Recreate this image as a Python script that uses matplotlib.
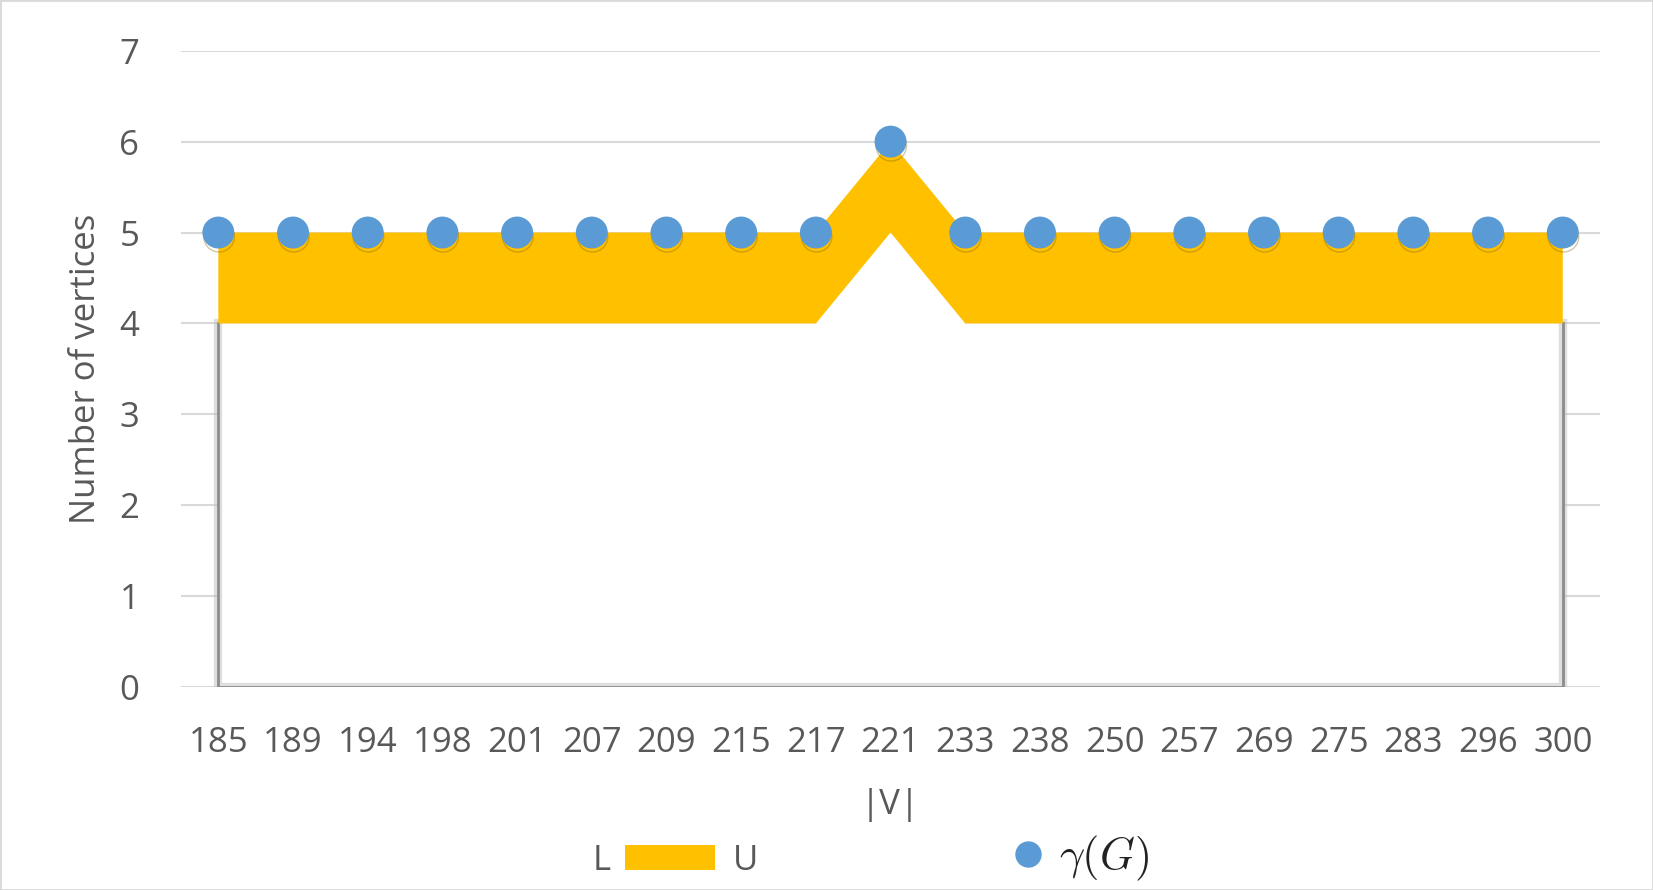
import numpy as np
import matplotlib.pyplot as plt
import matplotlib.patheffects as pe
from matplotlib.patches import Patch, Rectangle
from matplotlib.lines import Line2D

plt.rcParams['font.family'] = ['Open Sans', 'DejaVu Sans']
plt.rcParams['mathtext.fontset'] = 'cm'

# datos
vertices = ['185', '189', '194', '198', '201', '207', '209', '215', '217', '221',
            '233', '238', '250', '257', '269', '275', '283', '296', '300']
lower = [4, 4, 4, 4, 4, 4, 4, 4, 4, 5, 4, 4, 4, 4, 4, 4, 4, 4, 4]
upper = [5, 5, 5, 5, 5, 5, 5, 5, 5, 6, 5, 5, 5, 5, 5, 5, 5, 5, 5]
gamma = [5, 5, 5, 5, 5, 5, 5, 5, 5, 6, 5, 5, 5, 5, 5, 5, 5, 5, 5]

gold = '#FFC000'
blue = '#5B9BD5'
txt = '#595959'

fig = plt.figure(figsize=(16.53, 8.9), dpi=100)
ax = fig.add_axes([0.1095, 0.228, 0.8585, 0.715])
fig.patches.append(Rectangle((0, 0), 1, 1, transform=fig.transFigure,
                             fill=False, edgecolor='#d9d9d9', linewidth=2))

x = np.arange(len(vertices))
soft = [pe.Stroke(linewidth=6, foreground='#bfbfbf', alpha=0.5), pe.Normal()]

# area L (blanca) con sombra solo en los bordes laterales e inferior
ax.fill_between(x, 0, lower, facecolor='white', edgecolor='none', zorder=2)
ax.plot([x[0], x[0], x[-1], x[-1]], [lower[0], 0, 0, lower[-1]], color='#8c8c8c',
        linewidth=2, zorder=2.5, solid_joinstyle='miter', path_effects=soft)
# area U (dorada)
ax.fill_between(x, lower, upper, facecolor=gold, edgecolor='none', zorder=3)
ax.plot(x, gamma, linestyle='none', marker='o', markersize=22, color=blue, zorder=4,
        path_effects=[pe.SimpleLineShadow(offset=(0.5, -3), shadow_color='#7f6000', alpha=0.35), pe.Normal()])

ax.set_xlim(-0.5, len(vertices) - 0.5)
ax.set_ylim(0, 7)
ax.set_yticks(range(8))
ax.grid(axis='y', color='#d9d9d9', linewidth=1.5, zorder=0)
ax.set_axisbelow(True)
for s in ax.spines.values():
    s.set_visible(False)
ax.tick_params(length=0, labelsize=25, colors=txt)
ax.tick_params(axis='x', pad=28)
ax.tick_params(axis='y', pad=30)
ax.set_xticks(x)
ax.set_xticklabels(vertices)

ax.set_xlabel('|V|', fontsize=25, color=txt, labelpad=20)
ax.set_ylabel('Number of vertices', fontsize=25, color=txt, labelpad=12)

# leyenda
h1 = [Patch(facecolor='white', edgecolor='none'), Patch(facecolor=gold, edgecolor='none')]
leg1 = fig.legend(h1, ['L', 'U'], ncol=2, loc='center', bbox_to_anchor=(0.376, 0.033),
                  frameon=False, fontsize=25, handlelength=2.6, handleheight=0.7,
                  handletextpad=0.5, columnspacing=0.4, labelcolor=txt)
h2 = [Line2D([], [], linestyle='none', marker='o', markersize=18, color=blue)]
leg2 = fig.legend(h2, [r'$\gamma(G)$'], loc='center', bbox_to_anchor=(0.653, 0.035),
                  frameon=False, fontsize=32, handlelength=0.8, handletextpad=0.3,
                  labelcolor='#222222')

fig.savefig('out.png', dpi=100)
